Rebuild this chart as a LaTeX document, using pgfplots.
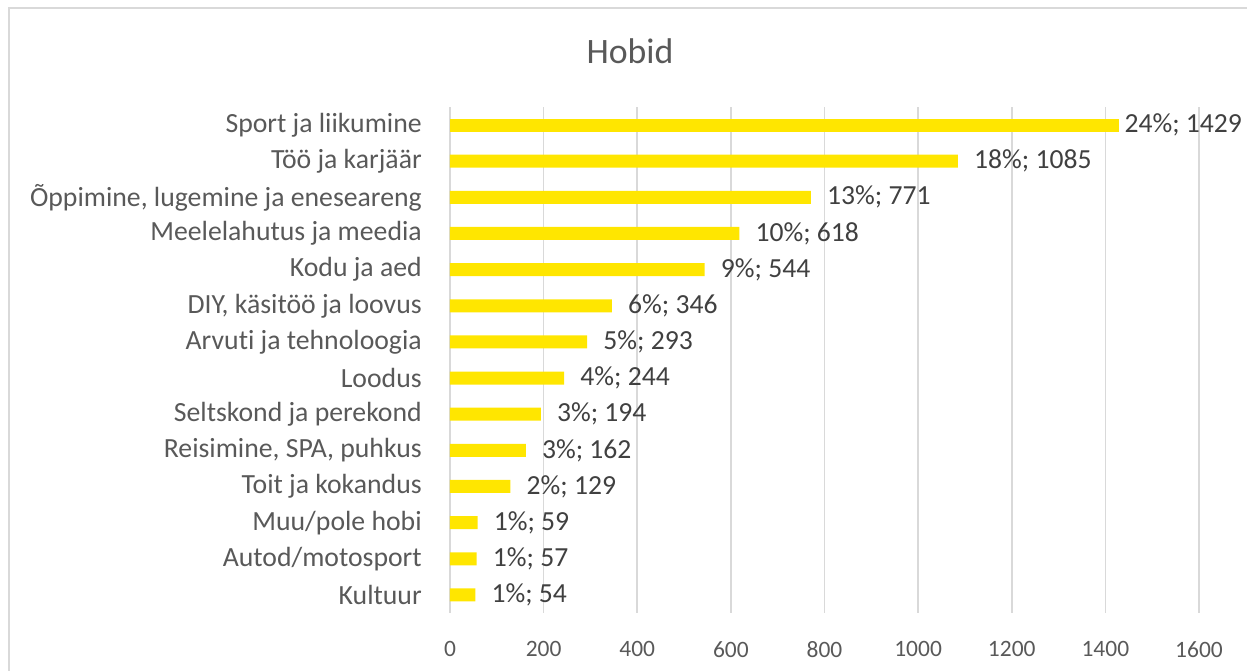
\documentclass[border=0pt]{standalone}
\usepackage{pgfplots}
\usepackage{pgfplotstable}
\pgfplotsset{compat=1.18}
\usepackage{fontspec}
\setmainfont{Carlito}[Ligatures=NoCommon]
\definecolor{baryellow}{HTML}{FFE600}
\definecolor{gridgray}{HTML}{D9D9D9}
\definecolor{labgray}{HTML}{595959}
\definecolor{datgray}{HTML}{404040}
\pgfplotstableread{
x y pct
54 0 1
57 1 1
59 2 1
129 3 2
162 4 3
194 5 3
244 6 4
293 7 5
346 8 6
544 9 9
618 10 10
771 11 13
1085 12 18
}\hobid
\pgfplotstableread{
x y pct
1429 13 24
}\hobidtop
\begin{document}
\begin{tikzpicture}
\useasboundingbox (0,0) rectangle (935.25pt,503.25pt);
\draw[gridgray, line width=1.2pt] (6.75pt,0) -- (6.75pt,497.25pt) -- (935.25pt,497.25pt);
\node[anchor=base, text=labgray, font=\fontsize{26.8pt}{30pt}\selectfont, inner sep=0pt] at (472.5pt,455.5pt) {Hobid};
\begin{axis}[
  at={(337.5pt,43.5pt)}, anchor=south west,
  scale only axis, width=561.75pt, height=379.5pt,
  xbar, bar width=9.75pt, bar shift=0pt,
  xmin=0, xmax=1600, ymin=-0.5, ymax=13.5,
  xtick={0,200,...,1600},
  ytick={0,...,13},
  yticklabels={Kultuur,Autod/motosport,Muu/pole hobi,Toit ja kokandus,{Reisimine, SPA, puhkus},Seltskond ja perekond,Loodus,Arvuti ja tehnoloogia,{DIY, käsitöö ja loovus},Kodu ja aed,Meelelahutus ja meedia,{Õppimine, lugemine ja eneseareng},Töö ja karjäär,Sport ja liikumine},
  xmajorgrids, grid style={gridgray, line width=1.2pt},
  axis line style={draw=none}, major tick length=0pt,
  /pgf/number format/assume math mode=true,
  /pgf/number format/1000 sep={},
  xticklabel style={text=labgray, font=\fontsize{17.6pt}{20pt}\selectfont, inner sep=0pt, anchor=north, yshift=-21pt},
  yticklabel style={text=labgray, font=\fontsize{20.8pt}{24pt}\selectfont, inner sep=0pt, anchor=east, xshift=-21pt},
  point meta=explicit,
  nodes near coords={\pgfmathprintnumber[fixed,precision=0]{\pgfplotspointmeta}\%; \pgfmathprintnumber[fixed,precision=0]{\pgfkeysvalueof{/data point/x}}},
  nodes near coords style={anchor=west, inner sep=0pt, text=datgray, font=\fontsize{20.7pt}{24pt}\selectfont},
]
\addplot[fill=baryellow, draw=none, nodes near coords style={xshift=12pt}] table[x=x, y=y, meta=pct] {\hobid};
\addplot[fill=baryellow, draw=none, nodes near coords style={xshift=4pt}] table[x=x, y=y, meta=pct] {\hobidtop};
\end{axis}
\end{tikzpicture}
\end{document}
